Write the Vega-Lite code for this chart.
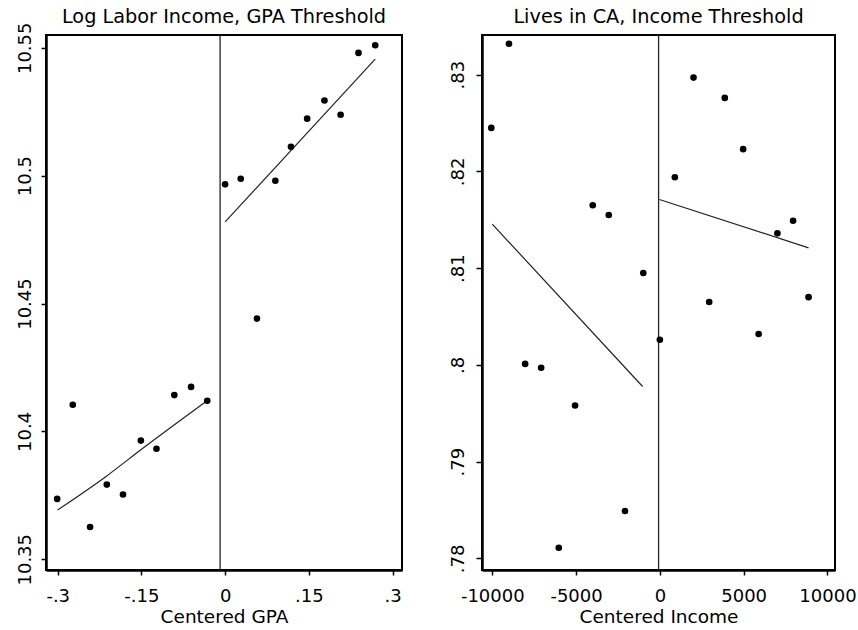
{
  "$schema": "https://vega.github.io/schema/vega-lite/v6.json",
  "background": "white",
  "padding": {"left": 11, "top": 6, "right": 5, "bottom": 5},
  "spacing": 44,
  "config": {
    "font": "DejaVu Sans",
    "view": {"stroke": "black", "strokeWidth": 2},
    "axis": {
      "grid": false,
      "domainColor": "black",
      "domainWidth": 2.5,
      "tickColor": "black",
      "tickWidth": 1.5,
      "tickSize": 5,
      "labelColor": "black",
      "labelFontSize": 18,
      "labelFlush": false,
      "labelOverlap": false,
      "titleColor": "black",
      "titleFontSize": 18.5,
      "titleFontWeight": "normal"
    },
    "axisY": {"labelAngle": -90, "labelAlign": "center", "labelBaseline": "alphabetic", "labelPadding": 11, "minExtent": 34, "maxExtent": 34},
    "axisX": {"labelPadding": 12, "titlePadding": 2},
    "title": {"fontSize": 19.3, "fontWeight": "normal", "color": "black", "baseline": "alphabetic", "frame": "group"}
  },
  "datasets": {
    "gpa_pts": [
      {"x": -0.301, "y": 10.3736}, {"x": -0.273, "y": 10.4104}, {"x": -0.242, "y": 10.3626},
      {"x": -0.212, "y": 10.3792}, {"x": -0.183, "y": 10.3753}, {"x": -0.151, "y": 10.3964},
      {"x": -0.123, "y": 10.3932}, {"x": -0.091, "y": 10.4142}, {"x": -0.061, "y": 10.4174},
      {"x": -0.032, "y": 10.412},
      {"x": 0.0, "y": 10.4966}, {"x": 0.028, "y": 10.4988}, {"x": 0.057, "y": 10.4441},
      {"x": 0.09, "y": 10.498}, {"x": 0.118, "y": 10.5113}, {"x": 0.147, "y": 10.5223},
      {"x": 0.178, "y": 10.5294}, {"x": 0.207, "y": 10.5238}, {"x": 0.239, "y": 10.548},
      {"x": 0.269, "y": 10.551}
    ],
    "gpa_fit": [
      {"side": "L", "x": -0.3, "y": 10.3693}, {"side": "L", "x": -0.2133, "y": 10.3824},
      {"side": "L", "x": -0.1475, "y": 10.3934}, {"side": "L", "x": -0.0323, "y": 10.412},
      {"side": "R", "x": 0.0, "y": 10.4819}, {"side": "R", "x": 0.269, "y": 10.5456}
    ],
    "gpa_cut": [{"x": -0.009}],
    "inc_pts": [
      {"x": -10060, "y": 0.8245}, {"x": -9005, "y": 0.8332}, {"x": -8039, "y": 0.8001},
      {"x": -7085, "y": 0.7997}, {"x": -6031, "y": 0.7811}, {"x": -5060, "y": 0.7958},
      {"x": -4005, "y": 0.8165}, {"x": -3050, "y": 0.8155}, {"x": -2081, "y": 0.7849},
      {"x": -990, "y": 0.8095},
      {"x": 0, "y": 0.8026}, {"x": 894, "y": 0.8194}, {"x": 2008, "y": 0.8297},
      {"x": 2943, "y": 0.8065}, {"x": 3873, "y": 0.8276}, {"x": 4970, "y": 0.8223},
      {"x": 5894, "y": 0.8032}, {"x": 7013, "y": 0.8136}, {"x": 7948, "y": 0.8149},
      {"x": 8873, "y": 0.807}
    ],
    "inc_fit": [
      {"side": "L", "x": -10000, "y": 0.81455}, {"side": "L", "x": -1031, "y": 0.79777},
      {"side": "R", "x": -30, "y": 0.8171}, {"side": "R", "x": 8873, "y": 0.8121}
    ],
    "inc_cut": [{"x": -77}]
  },
  "hconcat": [
    {
      "title": {"text": "Log Labor Income, GPA Threshold", "offset": -5},
      "width": 356,
      "height": 535,
      "layer": [
        {
          "data": {"name": "gpa_cut"},
          "mark": {"type": "rule", "color": "#222222", "strokeWidth": 1.3},
          "encoding": {"x": {"field": "x", "type": "quantitative"}}
        },
        {
          "data": {"name": "gpa_fit"},
          "mark": {"type": "line", "color": "#222222", "strokeWidth": 1.2, "interpolate": "monotone"},
          "encoding": {
            "x": {"field": "x", "type": "quantitative"},
            "y": {"field": "y", "type": "quantitative"},
            "detail": {"field": "side"}
          }
        },
        {
          "data": {"name": "gpa_pts"},
          "mark": {"type": "circle", "color": "black", "opacity": 1, "size": 44},
          "encoding": {
            "x": {"field": "x", "type": "quantitative", "title": "Centered GPA",
                  "scale": {"domain": [-0.321, 0.317], "nice": false, "zero": false},
                  "axis": {"values": [-0.3, -0.15, 0, 0.15, 0.3], "labelExpr": "replace(toString(datum.value), '0.', '.')"}},
            "y": {"field": "y", "type": "quantitative", "title": null,
                  "scale": {"domain": [10.3458, 10.555], "nice": false, "zero": false},
                  "axis": {"values": [10.35, 10.4, 10.45, 10.5, 10.55], "labelExpr": "toString(datum.value)"}}
          }
        }
      ]
    },
    {
      "title": {"text": "Lives in CA, Income Threshold", "offset": 7},
      "width": 353,
      "height": 535,
      "layer": [
        {
          "data": {"name": "inc_cut"},
          "mark": {"type": "rule", "color": "#222222", "strokeWidth": 1.3},
          "encoding": {"x": {"field": "x", "type": "quantitative"}}
        },
        {
          "data": {"name": "inc_fit"},
          "mark": {"type": "line", "color": "#222222", "strokeWidth": 1.2},
          "encoding": {
            "x": {"field": "x", "type": "quantitative"},
            "y": {"field": "y", "type": "quantitative"},
            "detail": {"field": "side"}
          }
        },
        {
          "data": {"name": "inc_pts"},
          "mark": {"type": "circle", "color": "black", "opacity": 1, "size": 44},
          "encoding": {
            "x": {"field": "x", "type": "quantitative", "title": "Centered Income",
                  "scale": {"domain": [-10614, 10450], "nice": false, "zero": false},
                  "axis": {"values": [-10000, -5000, 0, 5000, 10000], "labelExpr": "toString(datum.value)"}},
            "y": {"field": "y", "type": "quantitative", "title": null,
                  "scale": {"domain": [0.7788, 0.8341], "nice": false, "zero": false},
                  "axis": {"values": [0.78, 0.79, 0.8, 0.81, 0.82, 0.83], "labelExpr": "replace(toString(datum.value), '0.', '.')", "tickSize": 6, "labelPadding": 13}}
          }
        }
      ]
    }
  ]
}
